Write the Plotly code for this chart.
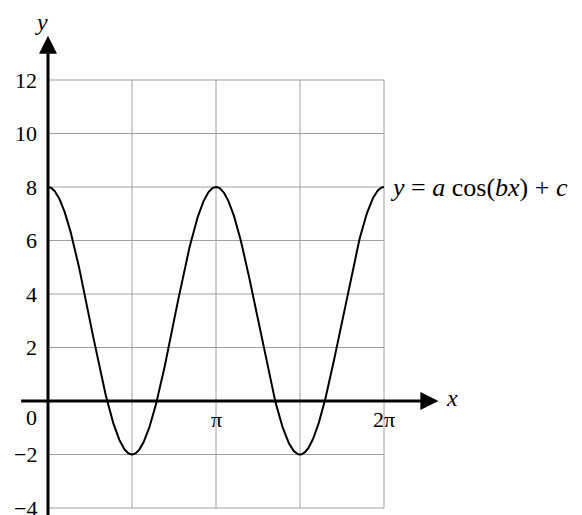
import numpy as np
import plotly.graph_objects as go

# Values: max 8, min -2, period pi
a = 5.0   # amplitude
b = 2.0   # frequency
c = 3.0   # vertical shift

y_ticks = [12, 10, 8, 6, 4, 2, -2, -4]
y_tick_labels = ["12", "10", "8", "6", "4", "2", "\u22122", "\u22124"]
grid_y = [-4, -2, 0, 2, 4, 6, 8, 10, 12]
grid_x = [np.pi / 2, np.pi, 3 * np.pi / 2, 2 * np.pi]
x_ticks = [np.pi, 2 * np.pi]
x_tick_labels = ["\u03c0", "2\u03c0"]

x = np.linspace(0, 2 * np.pi, 600)
y = a * np.cos(b * x) + c

FONT = "Liberation Serif"
GRID = "#a0a0a0"
NB = "\u00a0"

fig = go.Figure()

shapes = []
for gy in grid_y:
    if gy == 0:
        continue
    shapes.append(dict(type="line", x0=0, x1=2 * np.pi, y0=gy, y1=gy,
                       line=dict(color=GRID, width=1), layer="below"))
for gx in grid_x:
    shapes.append(dict(type="line", x0=gx, x1=gx, y0=-4, y1=12,
                       line=dict(color=GRID, width=1), layer="below"))

fig.add_trace(go.Scatter(x=x, y=y, mode="lines",
                         line=dict(color="black", width=2),
                         hoverinfo="skip", showlegend=False))

ann = []
# axes with arrows
ann.append(dict(x=7.3, y=0, ax=-0.53, ay=0, xref="x", yref="y", axref="x", ayref="y",
                showarrow=True, arrowhead=2, arrowsize=1.2, arrowwidth=3,
                arrowcolor="black", text=""))
ann.append(dict(x=0, y=13.65, ax=0, ay=-4.6, xref="x", yref="y", axref="x", ayref="y",
                showarrow=True, arrowhead=2, arrowsize=1.2, arrowwidth=3,
                arrowcolor="black", text=""))
# y tick labels
for v, t in zip(y_ticks, y_tick_labels):
    ann.append(dict(x=0, y=v, xref="x", yref="y", text=t, showarrow=False,
                    xanchor="right", yanchor="middle", xshift=-9,
                    font=dict(family=FONT, size=22, color="black")))
ann.append(dict(x=0, y=0, xref="x", yref="y", text="0", showarrow=False,
                xanchor="right", yanchor="top", xshift=-9, yshift=-2,
                font=dict(family=FONT, size=22, color="black")))
for v, t in zip(x_ticks, x_tick_labels):
    ann.append(dict(x=v, y=0, xref="x", yref="y", text=t, showarrow=False,
                    xanchor="center", yanchor="top", yshift=-4,
                    font=dict(family=FONT, size=22, color="black")))
# axis labels
ann.append(dict(x=0, y=13.65, xref="x", yref="y", text="<i>y</i>", showarrow=False,
                xanchor="right", yanchor="bottom", xshift=2, yshift=-1,
                font=dict(family=FONT, size=24, color="black")))
ann.append(dict(x=7.3, y=0, xref="x", yref="y", text="<i>x</i>", showarrow=False,
                xanchor="left", yanchor="middle", xshift=6, yshift=3,
                font=dict(family=FONT, size=24, color="black")))
# equation label
eq = ("<i>y</i>" + NB + "=" + NB + "<i>a</i>" + NB + "cos(<i>bx</i>)"
      + NB + "+" + NB + "<i>c</i>")
ann.append(dict(x=2 * np.pi, y=a + c, xref="x", yref="y",
                text=eq, showarrow=False,
                xanchor="left", yanchor="middle", xshift=4,
                font=dict(family=FONT, size=26, color="black")))

W, H = 574, 507          # page body adds an 8px offset
x0_px, x2pi_px = 40, 376
ytop_px, ybot_px = 72, 500
px_x = (x2pi_px - x0_px) / (2 * np.pi)
px_y = (ybot_px - ytop_px) / 16.0
fig.update_layout(
    width=W, height=H,
    margin=dict(l=0, r=0, t=0, b=0),
    paper_bgcolor="white", plot_bgcolor="white",
    xaxis=dict(range=[-x0_px / px_x, 2 * np.pi + (W - x2pi_px) / px_x],
               visible=False, fixedrange=True),
    yaxis=dict(range=[-4 - (H - ybot_px) / px_y, 12 + ytop_px / px_y],
               visible=False, fixedrange=True),
    shapes=shapes, annotations=ann, showlegend=False,
)

fig.write_html("out.html")
